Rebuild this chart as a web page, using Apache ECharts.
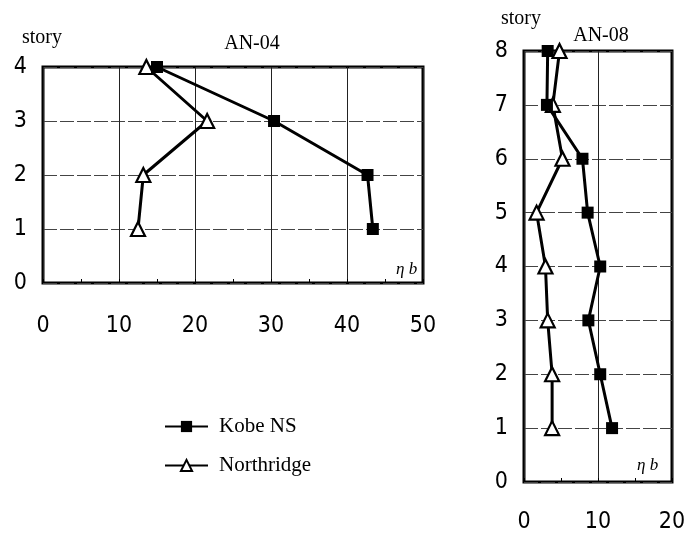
<!DOCTYPE html>
<html>
<head>
<meta charset="utf-8">
<script src="https://cdn.jsdelivr.net/npm/echarts@6/dist/echarts.min.js"></script>
<style>html,body{margin:0;padding:0;background:#fff}#c{width:696px;height:537px}</style>
</head>
<body>
<div id="c"></div>
<script>
// AN-04 (left panel)
var storiesA = [4, 3, 2, 1];
var kobeA = [15.0, 30.4, 42.7, 43.4];
var northA = [13.6, 21.6, 13.2, 12.5];
// AN-08 (right panel)
var storiesB = [8, 7, 6, 5, 4, 3, 2, 1];
var kobeB = [3.2, 3.1, 7.9, 8.6, 10.3, 8.7, 10.3, 11.9];
var northB = [4.8, 3.9, 5.2, 1.7, 2.9, 3.2, 3.8, 3.8];
var seriesNames = ['Kobe NS', 'Northridge'];
var titlesText = ['AN-04', 'AN-08'];
var yName = 'story';
var xName = 'η b';

function pairs(xs, ys) { return xs.map(function (v, i) { return [v, ys[i]]; }); }

var numFont = { fontFamily: '"DejaVu Sans Condensed", "DejaVu Sans", sans-serif', fontSize: 23, color: '#000' };
var serif = '"Liberation Serif", "Times New Roman", serif';

function xAxis(idx, max) {
  return {
    gridIndex: idx, type: 'value', min: 0, max: max, interval: 10,
    axisLine: { show: false },
    axisTick: { show: true, inside: true, length: 4, lineStyle: { color: '#000' } },
    minorTick: { show: true, splitNumber: 2, length: 4, lineStyle: { color: '#000' } },
    axisLabel: Object.assign({ margin: idx === 0 ? 32 : 29 }, numFont),
    splitLine: { show: true, lineStyle: { color: '#222', width: 1 } }
  };
}
function yAxis(idx, max) {
  return {
    gridIndex: idx, type: 'value', min: 0, max: max, interval: 1,
    axisLine: { show: false }, axisTick: { show: false },
    axisLabel: Object.assign({ margin: 16 }, numFont),
    splitLine: { show: true, lineStyle: { color: '#444', width: 1, type: [14, 3] } }
  };
}
function kobe(idx, data) {
  return {
    name: seriesNames[0], type: 'line', xAxisIndex: idx, yAxisIndex: idx,
    data: data, symbol: 'rect', symbolSize: 12, z: 5,
    lineStyle: { color: '#000', width: 3 },
    itemStyle: { color: '#000', borderColor: '#000', borderWidth: 0 }
  };
}
function north(idx, data) {
  return {
    name: seriesNames[1], type: 'line', xAxisIndex: idx, yAxisIndex: idx,
    data: data, symbol: 'triangle', symbolSize: 14, z: 4,
    lineStyle: { color: '#000', width: 3 },
    itemStyle: { color: '#fff', borderColor: '#000', borderWidth: 2.2 }
  };
}

var chart = echarts.init(document.getElementById('c'), null, { renderer: 'canvas' });
chart.setOption({
  animation: false,
  backgroundColor: '#fff',
  grid: [
    { left: 43, top: 67, width: 380, height: 216, show: true, borderColor: '#000', borderWidth: 3, backgroundColor: 'transparent' },
    { left: 524, top: 51, width: 148, height: 431, show: true, borderColor: '#000', borderWidth: 3, backgroundColor: 'transparent' }
  ],
  xAxis: [xAxis(0, 50), xAxis(1, 20)],
  yAxis: [yAxis(0, 4), yAxis(1, 8)],
  title: [
    { text: yName, left: 22, top: 28, textStyle: { fontFamily: serif, fontSize: 20, fontWeight: 'normal', color: '#000' }, padding: 0 },
    { text: titlesText[0], left: 252, textAlign: 'center', top: 34, textStyle: { fontFamily: serif, fontSize: 20, fontWeight: 'normal', color: '#000' }, padding: 0 },
    { text: yName, left: 501, top: 9, textStyle: { fontFamily: serif, fontSize: 20, fontWeight: 'normal', color: '#000' }, padding: 0 },
    { text: titlesText[1], left: 601, textAlign: 'center', top: 26, textStyle: { fontFamily: serif, fontSize: 20, fontWeight: 'normal', color: '#000' }, padding: 0 }
  ],
  graphic: [
    { type: 'text', left: 396, top: 261, style: { text: xName, font: 'italic 17px ' + serif, fill: '#000' } },
    { type: 'text', left: 637, top: 457, style: { text: xName, font: 'italic 17px ' + serif, fill: '#000' } }
  ],
  legend: {
    data: seriesNames, orient: 'vertical', left: 159, top: 411,
    itemWidth: 43, itemHeight: 14, itemGap: 18,
    textStyle: { fontFamily: serif, fontSize: 21, color: '#000', lineHeight: 21, padding: [0, 0, 0, 6] }
  },
  series: [
    kobe(0, pairs(kobeA, storiesA)),
    north(0, pairs(northA, storiesA)),
    kobe(1, pairs(kobeB, storiesB)),
    north(1, pairs(northB, storiesB))
  ]
});
</script>
</body>
</html>
